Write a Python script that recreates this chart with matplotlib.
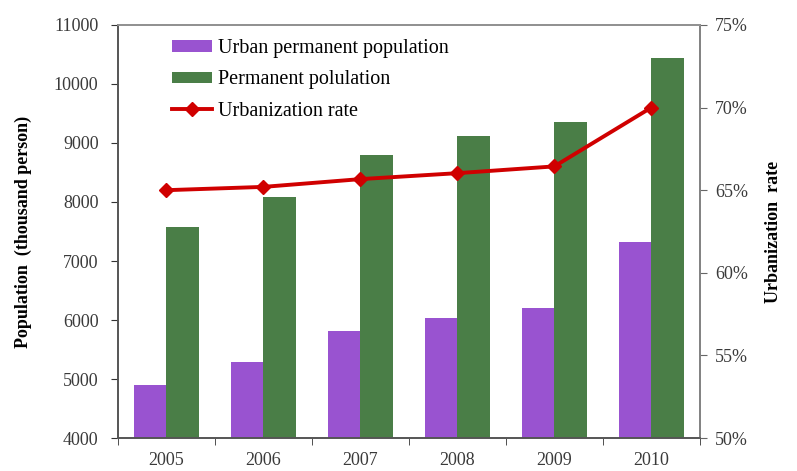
import numpy as np
import matplotlib.pyplot as plt
from matplotlib.ticker import FuncFormatter

# data
years = ['2005', '2006', '2007', '2008', '2009', '2010']
urban_pop = [4900, 5280, 5810, 6030, 6210, 7330]
perm_pop = [7570, 8080, 8800, 9110, 9350, 10440]
urban_rate = [65.0, 65.2, 65.67, 66.03, 66.44, 70.0]

plt.rcParams['font.family'] = ['Liberation Serif', 'DejaVu Serif']

purple = '#9953D0'
green = '#4A7E47'
red = '#D00000'

fig = plt.figure(figsize=(7.97, 4.71), dpi=100)
ax = fig.add_axes([0.148, 0.070, 0.730, 0.877])
ax2 = ax.twinx()

index = np.arange(len(years))
bar_width = 0.333

b1 = ax.bar(index - bar_width / 2, urban_pop, bar_width, color=purple,
            label='Urban permanent population')
b2 = ax.bar(index + bar_width / 2, perm_pop, bar_width, color=green,
            label='Permanent polulation')
l1, = ax2.plot(index, urban_rate, color=red, linewidth=2.8, marker='D',
               markersize=7, label='Urbanization rate')

ax.set_xlim(-0.5, len(years) - 0.5)
ax.set_ylim(4000, 11000)
ax.set_yticks(range(4000, 11001, 1000))
ax2.set_ylim(50, 75)
ax2.set_yticks(range(50, 76, 5))
ax2.yaxis.set_major_formatter(FuncFormatter(lambda v, p: '%d%%' % v))

# year labels centred, tick marks on category boundaries
ax.set_xticks(index)
ax.set_xticklabels(years)
ax.set_xticks(np.arange(-0.5, len(years), 1), minor=True)
ax.tick_params(axis='x', which='major', length=0, pad=10)
ax.tick_params(axis='x', which='minor', length=5, direction='out', color='#333333')
ax.tick_params(axis='y', length=5, direction='out', color='#333333', pad=9)
ax2.tick_params(axis='y', length=5, direction='out', color='#666666', pad=6)

for a in (ax, ax2):
    a.tick_params(labelsize=13, labelcolor='#3a3a3a')
    for s in a.spines.values():
        s.set_color('#555555')
        s.set_linewidth(1.2)
ax2.spines['top'].set_color('#999999')
ax2.spines['right'].set_color('#888888')

ax.set_ylabel('Population  (thousand person)', fontsize=13, fontweight='bold', labelpad=16)
ax2.set_ylabel('Urbanization  rate', fontsize=13, fontweight='bold', rotation=90,
               labelpad=12)

ax2.legend(handles=[b1, b2, l1], loc='upper left', bbox_to_anchor=(0.062, 1.01),
           frameon=False, fontsize=14.5, handlelength=2.0, handleheight=0.5,
           labelspacing=0.62, handletextpad=0.3)

fig.savefig('out.png', dpi=100)
